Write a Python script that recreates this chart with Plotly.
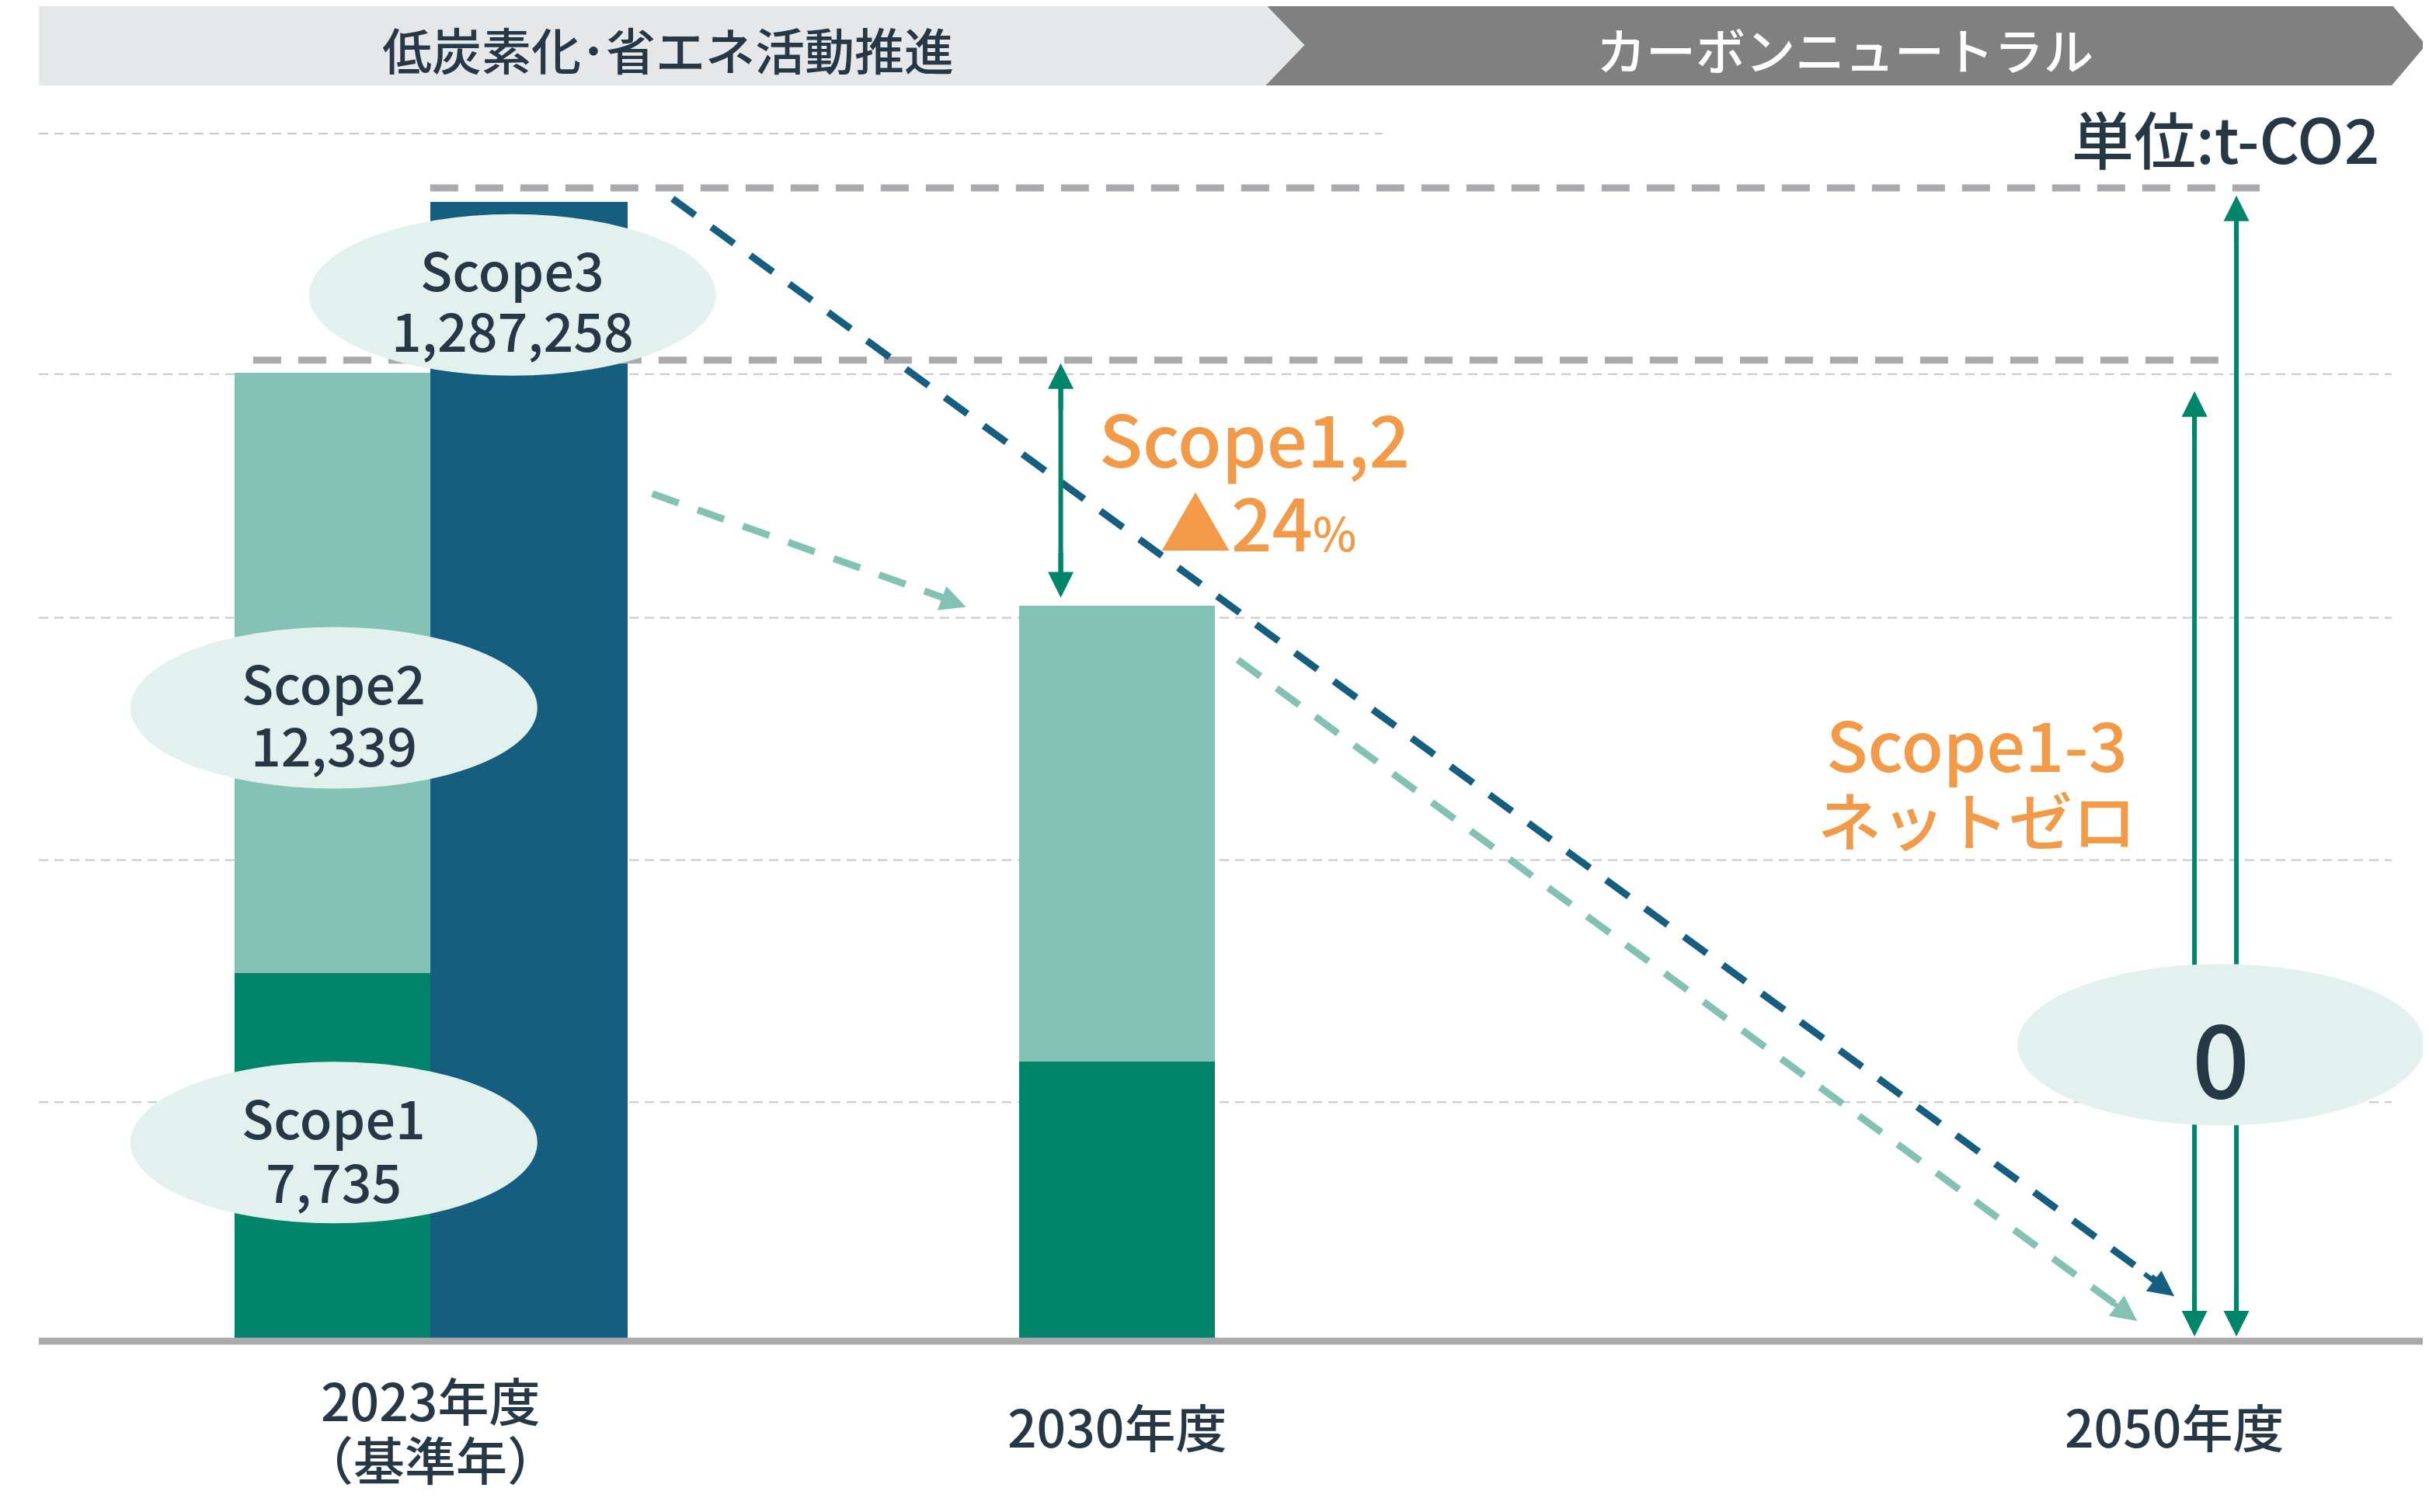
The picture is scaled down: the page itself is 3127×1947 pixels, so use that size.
import plotly.graph_objects as go

# ---- data (schematic heights as drawn) ----
years = ["2023年度", "2030年度", "2050年度"]
base_note = "（基準年）"
year_x = [277, 719, 1400]
scope1_h = [235, 178]          # drawn heights of Scope1 bars (2023, 2030)
scope2_h = [387, 294]          # drawn heights of Scope2 bars
scope3_h = [732]               # drawn height of Scope3 bar (2023)
s12_x = [214, 719]
s3_x = [340.5]
scope_names = ["Scope1", "Scope2", "Scope3"]
scope_values = ["7,735", "12,339", "1,287,258"]

C1, C2, C3 = "#00856a", "#83c1b4", "#165e80"
ORANGE, TXT, GRAY = "#f39a48", "#263845", "#a9a9ae"
ELL = "#e3f1ee"
FONT = "Noto Sans CJK JP"

def Y(py):
    return 862 - py

fig = go.Figure()
fig.add_bar(x=s12_x, y=scope1_h, width=126, marker_color=C1, marker_line_width=0)
fig.add_bar(x=s12_x, y=scope2_h, width=126, marker_color=C2, marker_line_width=0)
fig.add_bar(x=s3_x, y=scope3_h, width=127, marker_color=C3, marker_line_width=0)

shapes = []
for py, x1 in [(86, 890), (241, 1540), (398, 1540), (554, 1540), (710, 1540)]:
    shapes.append(dict(type="line", x0=25, x1=x1, y0=Y(py), y1=Y(py),
                       line=dict(color="#c8c8c8", width=2, dash="12px,8px"), layer="below"))
shapes.append(dict(type="rect", x0=25, x1=840, y0=Y(55), y1=Y(3), fillcolor="#e6e7e8", line_width=0, layer="below"))
shapes.append(dict(type="path", path=f"M815,{Y(3)} L1540,{Y(3)} L1562,{Y(29)} L1540,{Y(55)} L815,{Y(55)} L840,{Y(29)} Z",
                   fillcolor="#808080", line_width=0, layer="below"))
shapes.append(dict(type="line", x0=25, x1=1565, y0=Y(864), y1=Y(864), line=dict(color=GRAY, width=9)))
shapes.append(dict(type="line", x0=277, x1=1455, y0=Y(121), y1=Y(121), line=dict(color=GRAY, width=9, dash="36px,22px")))
shapes.append(dict(type="line", x0=163, x1=1440, y0=Y(232), y1=Y(232), line=dict(color=GRAY, width=9, dash="36px,22px")))
shapes.append(dict(type="line", x0=433, y0=Y(128), x1=1392, y1=Y(828), line=dict(color=C3, width=9, dash="36px,26px")))
shapes.append(dict(type="line", x0=420, y0=Y(318), x1=610, y1=Y(386), line=dict(color=C2, width=9, dash="36px,26px")))
shapes.append(dict(type="line", x0=797, y0=Y(425), x1=1366, y1=Y(843), line=dict(color=C2, width=9, dash="36px,26px")))
for x, a, b in [(683, 240, 380), (1413, 258, 856), (1440, 132, 856)]:
    shapes.append(dict(type="line", x0=x, x1=x, y0=Y(a), y1=Y(b), line=dict(color=C1, width=6)))
for cx, cy in [(330, 190), (215, 456), (215, 736), (1430, 673)]:
    shapes.append(dict(type="circle", x0=cx-131, x1=cx+131, y0=Y(cy+52), y1=Y(cy-52), fillcolor=ELL, line_width=0))

ann = []
def arrow(x, y, ax, ay, color):
    ann.append(dict(x=x, y=Y(y), ax=ax, ay=Y(ay), xref="x", yref="y", axref="x", ayref="y",
                    showarrow=True, arrowhead=2, arrowsize=1.1, arrowwidth=6, arrowcolor=color, text=""))
arrow(1400, 835, 1380, 820, C3)
arrow(622, 391, 600, 383, C2)
arrow(1376, 851, 1356, 836, C2)
for x, top, bot in [(683, 234, 385), (1413, 252, 861), (1440, 126, 861)]:
    arrow(x, top, x, top + 30, C1)
    arrow(x, bot, x, bot - 30, C1)

def txt(x, py, s, size, color=TXT, **kw):
    ann.append(dict(x=x, y=Y(py), xref="x", yref="y", text=s, showarrow=False,
                    font=dict(family=FONT, size=size, color=color, weight=500), **kw))
for (cx, y1, y2), n, v in zip([(215, 719, 760), (215, 439, 479), (330, 173, 212)], scope_names, scope_values):
    txt(cx, y1, n, 68)
    txt(cx, y2, v, 68)
txt(1430, 679, "0", 130)
txt(430, 31, "低炭素化･省エネ活動推進", 64)
txt(1188, 31, "カーボンニュートラル", 64, color="white")
txt(1533, 88, "単位:t-CO2", 80, xanchor="right")
txt(808, 281, "Scope1,2", 92, color=ORANGE)
txt(810, 335, "▲24<span style='font-size:60px'>%</span>", 92, color=ORANGE)
txt(1273, 478, "Scope1-3", 88, color=ORANGE)
txt(1273, 527, "ネットゼロ", 82, color=ORANGE)
txt(year_x[0], 901, years[0], 66)
txt(year_x[0], 939, base_note, 66)
txt(year_x[1], 918, years[1], 66)
txt(year_x[2], 918, years[2], 66)

fig.update_layout(
    width=3127, height=1947, margin=dict(l=0, r=0, t=0, b=0),
    paper_bgcolor="white", plot_bgcolor="white", barmode="stack", bargap=0,
    showlegend=False, shapes=shapes, annotations=ann,
    xaxis=dict(range=[4, 1568], visible=False, fixedrange=True),
    yaxis=dict(range=[Y(978), Y(4)], visible=False, fixedrange=True),
)
fig.write_html("out.html")
